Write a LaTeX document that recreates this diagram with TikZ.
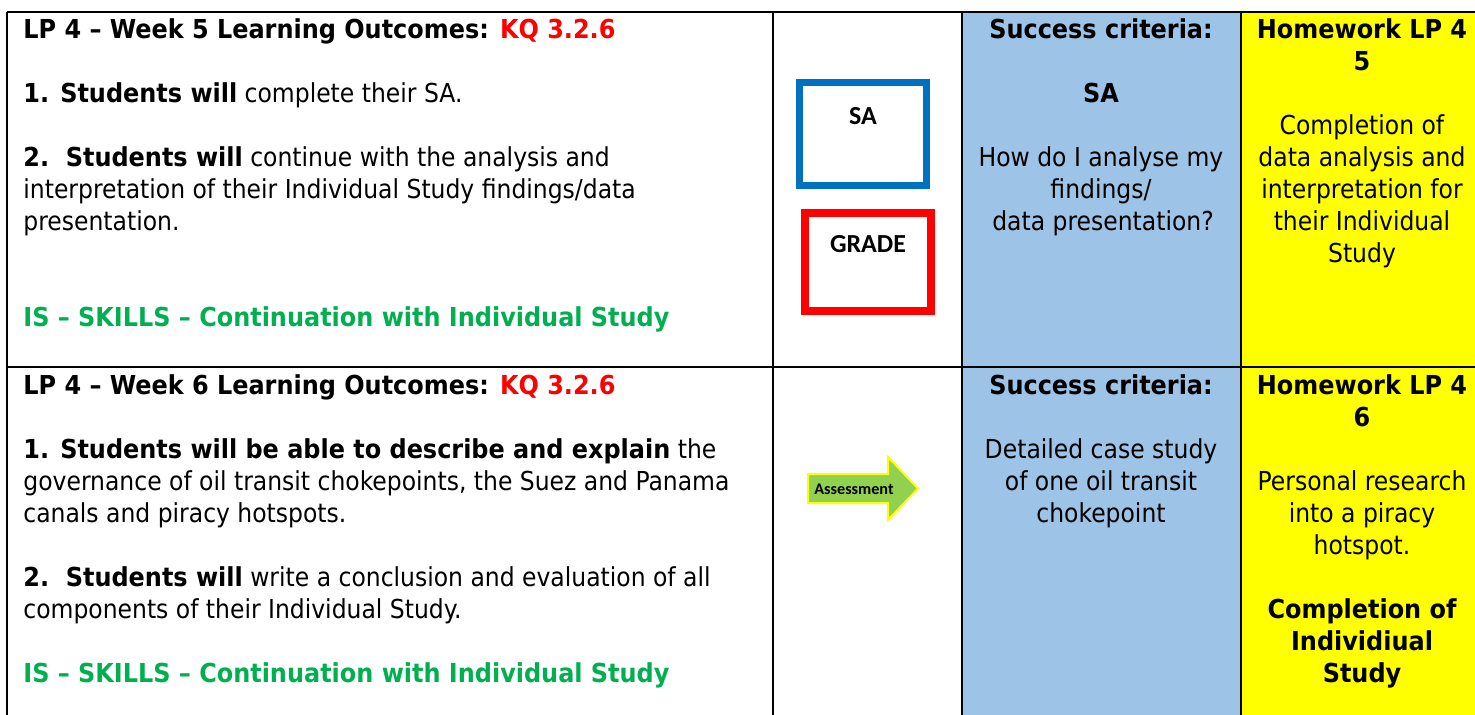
\documentclass[tikz,border=0pt]{standalone}
\usepackage{fontspec}
\IfFontExistsTF{DejaVu Sans Condensed}{\setmainfont{DejaVu Sans Condensed}[BoldFeatures={FakeStretch=1.02}]}{\setmainfont{DejaVu Sans}[FakeStretch=0.9]}
\newfontfamily\calib{Carlito}
\definecolor{critblue}{HTML}{9DC3E6}
\definecolor{hwyellow}{HTML}{FFFF00}
\definecolor{kqred}{HTML}{FF0000}
\definecolor{isgreen}{HTML}{00B050}
\definecolor{boxblue}{HTML}{0070C0}
\definecolor{arrowgreen}{HTML}{92D050}
\begin{document}
\begin{tikzpicture}[x=0.5pt,y=-0.5pt,
  lefttxt/.style={inner sep=0pt, anchor=base west, font=\fontsize{13.05}{16}\selectfont},
  midtxt/.style={inner sep=0pt, anchor=base, font=\fontsize{13.05}{16}\selectfont},
  grid/.style={line width=1.1pt, black},
  boxlbl/.style={inner sep=0pt, anchor=center, font=\calib\bfseries\fontsize{13}{15}\selectfont},
  arrlbl/.style={inner sep=0pt, anchor=center, font=\calib\bfseries\fontsize{8.1}{9}\selectfont}]
\useasboundingbox (0,0) rectangle (1475,715);
\fill[white] (0,0) rectangle (1475,715);
% column fills
\fill[critblue] (962,12) rectangle (1241,715);
\fill[hwyellow] (1241,12) rectangle (1475,715);
% grid
\draw[grid] (7,12) -- (1475,12);
\draw[grid] (7,367) -- (1475,367);
\draw[grid] (7,12) -- (7,715);
\draw[grid] (773,12) -- (773,715);
\draw[grid] (962,12) -- (962,715);
\draw[grid] (1241,12) -- (1241,715);

% ---------- Row 1, left ----------
\node[lefttxt] (r1title) at (23,39) {\bfseries LP 4 – Week 5 Learning Outcomes: \textcolor{kqred}{KQ 3.2.6}};
\node[lefttxt] (r1a) at (23,103) {\textbf{1. Students will} complete their SA.};
\node[lefttxt] (r1b1) at (23,167) {\textbf{2.\ \ Students will} continue with the analysis and};
\node[lefttxt] (r1b2) at (23,199) {interpretation of their Individual Study findings/data};
\node[lefttxt] (r1b3) at (23,231) {presentation.};
\node[lefttxt, text=isgreen] (r1is) at (23,327) {\bfseries IS – SKILLS – Continuation with Individual Study};

% ---------- Row 1, middle boxes ----------
\draw[boxblue, line width=3.5pt] (799.5,82.5) rectangle (926.5,185.5);
\node[boxlbl] (sabox) at (863,116) {SA};
\draw[kqred, line width=4pt] (805,213) rectangle (931,311);
\node[boxlbl] (gradebox) at (868,244) {GRADE};

% ---------- Row 1, success criteria ----------
\node[midtxt] (r1sc) at (1101,39) {\bfseries Success criteria:};
\node[midtxt] (r1sa) at (1101,103) {\bfseries SA};
\node[midtxt] (r1q1) at (1101,167) {How do I analyse my};
\node[midtxt] (r1q2) at (1101,199) {findings/};
\node[midtxt] (r1q3) at (1103,231) {data presentation?};

% ---------- Row 1, homework ----------
\node[midtxt] (r1hw1) at (1362,39) {\bfseries Homework LP 4};
\node[midtxt] (r1hw2) at (1362,71) {\bfseries 5};
\node[midtxt] (r1h1) at (1362,135) {Completion of};
\node[midtxt] (r1h2) at (1362,167) {data analysis and};
\node[midtxt] (r1h3) at (1362,199) {interpretation for};
\node[midtxt] (r1h4) at (1362,231) {their Individual};
\node[midtxt] (r1h5) at (1362,263) {Study};

% ---------- Row 2, left ----------
\node[lefttxt] (r2title) at (23,394) {\bfseries LP 4 – Week 6 Learning Outcomes: \textcolor{kqred}{KQ 3.2.6}};
\node[lefttxt] (r2a1) at (23,458) {\textbf{1. Students will be able to describe and explain} the};
\node[lefttxt] (r2a2) at (23,490) {governance of oil transit chokepoints, the Suez and Panama};
\node[lefttxt] (r2a3) at (23,522) {canals and piracy hotspots.};
\node[lefttxt] (r2b1) at (23,586) {\textbf{2.\ \ Students will} write a conclusion and evaluation of all};
\node[lefttxt] (r2b2) at (23,618) {components of their Individual Study.};
\node[lefttxt, text=isgreen] (r2is) at (23,682) {\bfseries IS – SKILLS – Continuation with Individual Study};

% ---------- Row 2, arrow ----------
\filldraw[fill=arrowgreen, draw=hwyellow, line width=1pt, line join=miter]
  (808,474) -- (888,474) -- (888,457) -- (918,488.5) -- (888,520) -- (888,503) -- (808,503) -- cycle;
\node[arrlbl] (assess) at (854,489) {Assessment};

% ---------- Row 2, success criteria ----------
\node[midtxt] (r2sc) at (1101,394) {\bfseries Success criteria:};
\node[midtxt] (r2d1) at (1101,458) {Detailed case study};
\node[midtxt] (r2d2) at (1101,490) {of one oil transit};
\node[midtxt] (r2d3) at (1101,522) {chokepoint};

% ---------- Row 2, homework ----------
\node[midtxt] (r2hw1) at (1362,394) {\bfseries Homework LP 4};
\node[midtxt] (r2hw2) at (1362,426) {\bfseries 6};
\node[midtxt] (r2p1) at (1362,490) {Personal research};
\node[midtxt] (r2p2) at (1362,522) {into a piracy};
\node[midtxt] (r2p3) at (1362,554) {hotspot.};
\node[midtxt] (r2c1) at (1362,618) {\bfseries Completion of};
\node[midtxt] (r2c2) at (1362,650) {\bfseries Individiual};
\node[midtxt] (r2c3) at (1362,682) {\bfseries Study};
\end{tikzpicture}
\end{document}
